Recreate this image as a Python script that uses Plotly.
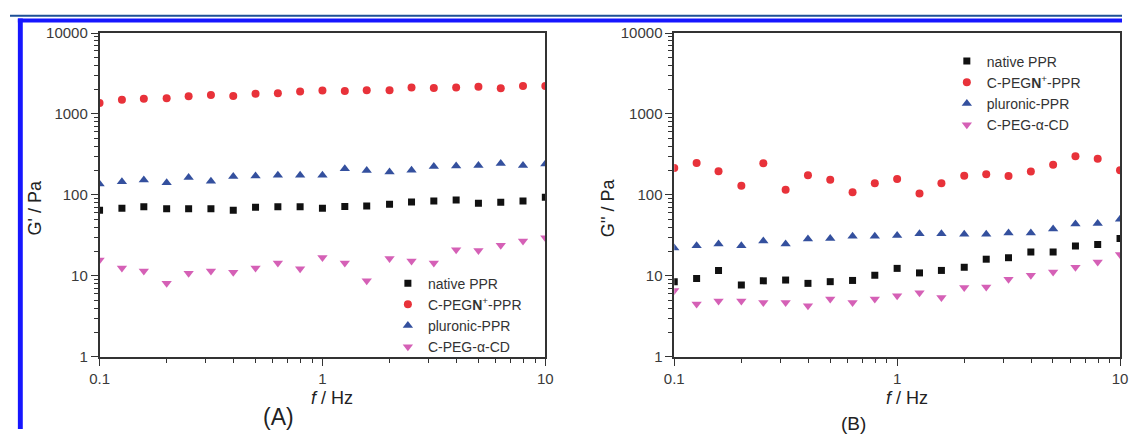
import plotly.graph_objects as go

W, H = 1130, 437

# Oscillation frequency (Hz), 10 points per decade
freq = [0.1, 0.126, 0.158, 0.2, 0.251, 0.316, 0.398, 0.501, 0.631, 0.794,
        1.0, 1.26, 1.58, 2.0, 2.51, 3.16, 3.98, 5.01, 6.31, 7.94, 10.0]

# Storage modulus G' (Pa)
gp_native = [64.8, 68.5, 71.6, 67.8, 67.8, 67.8, 64.8, 70.3, 71.6, 71.6, 68.5,
             72.3, 73.0, 76.9, 82.0, 84.2, 86.5, 79.0, 81.3, 84.2, 94.0]
gp_pegn = [1370, 1500, 1540, 1560, 1660, 1720, 1670, 1780, 1800, 1900, 1950,
           1920, 1970, 1970, 2130, 2100, 2130, 2170, 2080, 2210, 2210]
gp_pluronic = [137, 146, 153, 142, 164, 148, 169, 172, 175, 175, 175,
               211, 200, 192, 202, 225, 228, 232, 245, 232, 242]
gp_cd = [15.7, 12.5, 11.5, 8.1, 10.8, 11.5, 11.1, 12.5, 14.4, 12.3, 16.9,
         14.4, 8.7, 16.4, 15.3, 14.4, 21.1, 20.6, 24.0, 27.0, 29.6]

# Loss modulus G'' (Pa)
gpp_native = [8.5, 9.3, 11.7, 7.75, 8.7, 8.9, 8.1, 8.5, 8.8, 10.2, 12.4,
              10.9, 11.7, 12.8, 16.1, 16.8, 19.8, 19.8, 23.5, 24.4, 29.0]
gpp_pegn = [215, 248, 196, 130, 246, 116, 175, 154, 108, 140, 158,
            104, 140, 173, 180, 172, 195, 237, 300, 281, 202]
gpp_pluronic = [22.1, 23.6, 24.8, 23.6, 27.0, 24.8, 28.5, 29.0, 30.9, 30.9, 31.5,
                33.3, 33.3, 32.7, 32.7, 33.9, 33.9, 38.1, 43.7, 44.5, 50.0]
gpp_cd = [6.6, 4.5, 4.9, 4.9, 4.7, 4.7, 4.3, 5.2, 4.7, 5.2, 5.7,
          6.2, 5.4, 7.2, 7.3, 9.1, 10.2, 11.2, 12.8, 14.9, 18.4]

series_names = ["native PPR", "C-PEG<b>N</b><sup>+</sup>-PPR",
                "pluronic-PPR", "C-PEG-\u03b1-CD"]
x_ticks = [0.1, 1, 10]
x_ticklabels = ["0.1", "1", "10"]
y_ticks = [1, 10, 100, 1000, 10000]
y_ticklabels = ["1", "10", "100", "1000", "10000"]

styles = [
    dict(symbol="square", size=7, color="#111111"),
    dict(symbol="circle", size=8, color="#e8323a"),
    dict(symbol="triangle-up", size=9, color="#34509e"),
    dict(symbol="triangle-down", size=9, color="#d560b6"),
]

FONT = "Liberation Sans, Arial, sans-serif"
AX = "#333333"


def px_x(v):
    return v / W


def px_y(v):
    return 1 - v / H


fig = go.Figure()

panels = [
    ("x", "y", "legend", [gp_native, gp_pegn, gp_pluronic, gp_cd]),
    ("x2", "y2", "legend2", [gpp_native, gpp_pegn, gpp_pluronic, gpp_cd]),
]
for xa, ya, leg, data in panels:
    for name, vals, st in zip(series_names, data, styles):
        fig.add_trace(go.Scatter(
            x=freq, y=vals, mode="markers", name=name,
            xaxis=xa, yaxis=ya, legend=leg,
            marker=dict(symbol=st["symbol"], size=st["size"], color=st["color"],
                        line=dict(width=0)),
        ))

minor_x = [m * 10 ** e for e in (-1, 0) for m in range(2, 10)]
minor_y = [m * 10 ** e for e in (0, 1, 2, 3) for m in range(2, 10)]


def xaxis(domain, anchor):
    return dict(
        type="log", range=[-1, 1], domain=domain, anchor=anchor,
        tickvals=x_ticks, ticktext=x_ticklabels,
        ticks="outside", ticklen=7, tickwidth=1.2, tickcolor=AX,
        minor=dict(tickvals=minor_x, ticks="outside", ticklen=4,
                   tickwidth=1, tickcolor=AX, showgrid=False),
        showline=True, linecolor=AX, linewidth=1.5, mirror=True,
        showgrid=False, zeroline=False,
        tickfont=dict(family=FONT, size=15, color="#3a3a3a"),
    )


def yaxis(domain, anchor):
    return dict(
        type="log", range=[0, 4], domain=domain, anchor=anchor,
        tickvals=y_ticks, ticktext=y_ticklabels,
        ticks="outside", ticklen=7, tickwidth=1.2, tickcolor=AX,
        minor=dict(tickvals=minor_y, ticks="outside", ticklen=4,
                   tickwidth=1, tickcolor=AX, showgrid=False),
        showline=True, linecolor=AX, linewidth=1.5, mirror=True,
        showgrid=False, zeroline=False,
        tickfont=dict(family=FONT, size=15, color="#3a3a3a"),
    )


ydom = [px_y(362), px_y(25)]

legend_common = dict(
    bgcolor="rgba(0,0,0,0)", borderwidth=0,
    font=dict(family=FONT, size=14, color="#333333"),
    xanchor="left", yanchor="top", itemwidth=30, tracegroupgap=0,
    itemclick=False, itemdoubleclick=False,
)

fig.update_layout(
    width=W, height=H,
    margin=dict(l=0, r=0, t=0, b=0),
    paper_bgcolor="white", plot_bgcolor="white",
    showlegend=True,
    xaxis=xaxis([px_x(91), px_x(544)], "y"),
    yaxis=yaxis(ydom, "x"),
    xaxis2=xaxis([px_x(675), px_x(1128)], "y2"),
    yaxis2=yaxis(ydom, "x2"),
    legend=dict(x=px_x(384), y=px_y(269), **legend_common),
    legend2=dict(x=px_x(952), y=px_y(38), **legend_common),
)

# Axis titles and panel labels
title_font = dict(family=FONT, size=18, color="#222222")
annotations = [
    dict(x=px_x(25), y=px_y(207), text="G' / Pa", textangle=-90),
    dict(x=px_x(608), y=px_y(207), text="G'' / Pa", textangle=-90),
    dict(x=px_x(327), y=px_y(405), text="<i>f</i> / Hz"),
    dict(x=px_x(912), y=px_y(405), text="<i>f</i> / Hz"),
]
for a in annotations:
    fig.add_annotation(xref="paper", yref="paper", showarrow=False,
                       xanchor="center", yanchor="middle", font=title_font, **a)
fig.add_annotation(xref="paper", yref="paper", showarrow=False,
                   x=px_x(273), y=px_y(425), text="(A)",
                   xanchor="center", yanchor="middle",
                   font=dict(family=FONT, size=23, color="#222222"))
fig.add_annotation(xref="paper", yref="paper", showarrow=False,
                   x=px_x(857), y=px_y(431), text="(B)",
                   xanchor="center", yanchor="middle",
                   font=dict(family=FONT, size=19, color="#222222"))

# Page frame: thin rule, thick blue band and left bar
fig.add_shape(type="line", xref="paper", yref="paper",
              x0=0, x1=1, y0=px_y(7), y1=px_y(7),
              line=dict(color="#1d4f96", width=2), layer="above")
fig.add_shape(type="rect", xref="paper", yref="paper",
              x0=px_x(8), x1=1, y0=px_y(14), y1=px_y(10),
              fillcolor="#1616ff", line=dict(width=0), layer="above")
fig.add_shape(type="rect", xref="paper", yref="paper",
              x0=px_x(8), x1=px_x(13), y0=0, y1=px_y(10),
              fillcolor="#1616ff", line=dict(width=0), layer="above")

fig.write_html("out.html")
